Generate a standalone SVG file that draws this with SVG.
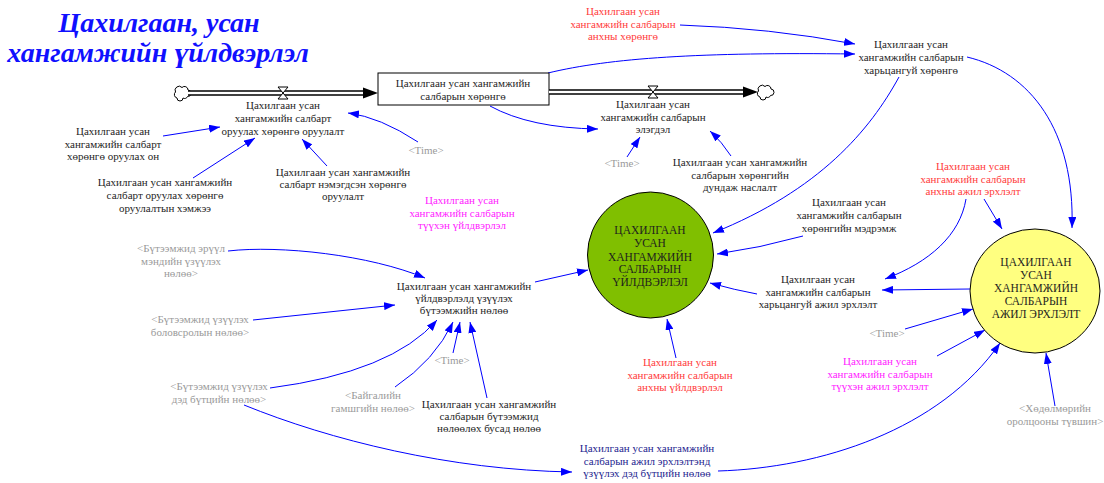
<svg xmlns="http://www.w3.org/2000/svg" xmlns:xlink="http://www.w3.org/1999/xlink" width="1104" height="483" viewBox="0 0 1104 483">
<style>
text{font-family:"Liberation Serif","Times New Roman",serif;font-size:11px;text-anchor:middle;fill:#1e1e1e}
.g{fill:#9a9a9a}
.r{fill:#ff3b3b}
.m{fill:#ff1cff}
.n{fill:#25258f}
.cap{font-size:11.5px}
.title{font-family:"Liberation Serif","Times New Roman",serif;font-size:28px;font-weight:bold;font-style:italic;fill:#1010ff}
.lk{fill:none;stroke:#0000ff;stroke-width:1;marker-end:url(#ah)}
.pipeo{stroke:#000;stroke-width:5.5;fill:none}
.pipei{stroke:#fff;stroke-width:2.5;fill:none}
.valve{fill:#fff;stroke:#000;stroke-width:1}
.cloud{fill:#fff;stroke:#000;stroke-width:1}
</style>
<defs>
<marker id="ah" markerUnits="userSpaceOnUse" viewBox="0 0 11 8" refX="11" refY="4" markerWidth="11" markerHeight="8" orient="auto">
<path d="M0,0 L11,4 L0,8 z" fill="#0000ff"/>
</marker>
<path id="cloudshape" d="M-5,5 a3.5,3.5 0 0 1 -1.5,-6 a4,4 0 0 1 6.5,-4.5 a3.5,3.5 0 0 1 6,2.5 a3,3 0 0 1 -0.5,6.5 a3,3 0 0 1 -4.5,1.5 a3,3 0 0 1 -6,0 z"/>
</defs>
<rect width="1104" height="483" fill="#fff"/>

<g id="title">
<text class="title" x="159" y="32">Цахилгаан, усан</text>
<text class="title" x="158" y="62">хангамжийн үйлдвэрлэл</text>
</g>

<g id="connectors">
<path class="lk" d="M163,136 L220,127"/>
<path class="lk" d="M193,178 L255,138"/>
<path class="lk" d="M327,166 L302,139"/>
<path class="lk" d="M418,142 Q380,117 348,113"/>
<path class="lk" d="M490,106 Q530,128 598,129"/>
<path class="lk" d="M627,157 L640,137"/>
<path class="lk" d="M731,156 Q722,142 710,131"/>
<path class="lk" d="M680,25 Q770,28 855,44"/>
<path class="lk" d="M548,73 C610,58 700,52 855,54"/>
<path class="lk" d="M967,57 C1030,72 1075,130 1072,228"/>
<path class="lk" d="M899,77 C870,130 820,190 713,233"/>
<path class="lk" d="M803,236 Q760,248 717,254"/>
<path class="lk" d="M757,294 Q735,290 710,283"/>
<path class="lk" d="M676,358 L667,319"/>
<path class="lk" d="M535,282 L588,270"/>
<path class="lk" d="M984,199 L1002,229"/>
<path class="lk" d="M966,199 C960,235 930,262 885,279"/>
<path class="lk" d="M970,289 L882,290"/>
<path class="lk" d="M905,329 L973,309"/>
<path class="lk" d="M937,356 L985,330"/>
<path class="lk" d="M718,471 C820,468 940,430 1000,343"/>
<path class="lk" d="M1055,406 L1046,353"/>
<path class="lk" d="M228,251 C280,245 370,255 425,278"/>
<path class="lk" d="M253,320 L395,305"/>
<path class="lk" d="M270,388 Q392,372 437,320"/>
<path class="lk" d="M395,387 Q435,360 453,322"/>
<path class="lk" d="M453,353 L460,322"/>
<path class="lk" d="M487,398 L470,322"/>
<path class="lk" d="M244,405 C330,440 450,470 572,472"/>
</g>

<g id="flow-invest">
<use href="#cloudshape" x="182" y="93" class="cloud"/>
<line class="pipeo" x1="188" y1="93" x2="365" y2="93"/>
<line class="pipei" x1="188" y1="93" x2="366" y2="93"/>
<polygon points="363,87.5 378,93 363,98.5" fill="#000"/>
<polygon class="valve" points="278,87 288,87 278,99 288,99"/>
<text x="283" y="109">Цахилгаан усан</text>
<text x="283" y="122">хангамжийн салбарт</text>
<text x="283" y="135">оруулах хөрөнгө оруулалт</text>
</g>

<g id="stock">
<rect x="378" y="73" width="171" height="32" fill="#fff" stroke="#000" stroke-width="1"/>
<text x="463" y="87">Цахилгаан усан хангамжийн</text>
<text x="463" y="100">салбарын хөрөнгө</text>
</g>

<g id="flow-depreciation">
<line class="pipeo" x1="549" y1="92" x2="744" y2="92"/>
<line class="pipei" x1="549" y1="92" x2="745" y2="92"/>
<polygon points="743,86.5 758,92 743,97.5" fill="#000"/>
<use href="#cloudshape" x="765" y="92" class="cloud"/>
<polygon class="valve" points="648,86 658,86 648,98 658,98"/>
<text x="653" y="108">Цахилгаан усан</text>
<text x="653" y="121">хангамжийн салбарын</text>
<text x="653" y="133">элэгдэл</text>
</g>

<g id="invest-year">
<text x="113" y="135">Цахилгаан усан</text>
<text x="113" y="148">хангамжийн салбарт</text>
<text x="113" y="160">хөрөнгө оруулах он</text>
</g>

<g id="invest-amount">
<text x="165" y="186">Цахилгаан усан хангамжийн</text>
<text x="165" y="199">салбарт оруулах хөрөнгө</text>
<text x="165" y="212">оруулалтын хэмжээ</text>
</g>

<g id="added-invest">
<text x="343" y="176">Цахилгаан усан хангамжийн</text>
<text x="343" y="188">салбарт нэмэгдсэн хөрөнгө</text>
<text x="343" y="200">оруулалт</text>
</g>

<g id="time1"><text class="g" x="426" y="154">&lt;Time&gt;</text></g>
<g id="time2"><text class="g" x="622" y="167">&lt;Time&gt;</text></g>

<g id="avg-life">
<text x="740" y="166">Цахилгаан усан хангамжийн</text>
<text x="740" y="179">салбарын хөрөнгийн</text>
<text x="740" y="191">дундаж наслалт</text>
</g>

<g id="initial-capital">
<text class="r" x="623" y="15">Цахилгаан усан</text>
<text class="r" x="623" y="28">хангамжийн салбарын</text>
<text class="r" x="623" y="40">анхны хөрөнгө</text>
</g>

<g id="relative-capital">
<text x="911" y="48">Цахилгаан усан</text>
<text x="911" y="61">хангамжийн салбарын</text>
<text x="911" y="74">харьцангуй хөрөнгө</text>
</g>

<g id="initial-employment">
<text class="r" x="973" y="170">Цахилгаан усан</text>
<text class="r" x="973" y="183">хангамжийн салбарын</text>
<text class="r" x="973" y="195">анхны ажил эрхлэлт</text>
</g>

<g id="capital-elasticity">
<text x="849" y="206">Цахилгаан усан</text>
<text x="849" y="219">хангамжийн салбарын</text>
<text x="849" y="232">хөрөнгийн мэдрэмж</text>
</g>

<g id="relative-employment">
<text x="818" y="283">Цахилгаан усан</text>
<text x="818" y="296">хангамжийн салбарын</text>
<text x="818" y="308">харьцангуй ажил эрхлэлт</text>
</g>

<g id="production">
<circle cx="650.5" cy="255" r="63" fill="#80bf00" stroke="#000" stroke-width="1"/>
<text class="cap" x="650" y="234">ЦАХИЛГААН</text>
<text class="cap" x="650" y="247">УСАН</text>
<text class="cap" x="650" y="261">ХАНГАМЖИЙН</text>
<text class="cap" x="650" y="273">САЛБАРЫН</text>
<text class="cap" x="650" y="286">ҮЙЛДВЭРЛЭЛ</text>
</g>

<g id="employment">
<ellipse cx="1035" cy="291" rx="65" ry="62" fill="#ffff80" stroke="#000" stroke-width="1"/>
<text class="cap" x="1036" y="266">ЦАХИЛГААН</text>
<text class="cap" x="1036" y="279">УСАН</text>
<text class="cap" x="1036" y="292">ХАНГАМЖИЙН</text>
<text class="cap" x="1036" y="305">САЛБАРЫН</text>
<text class="cap" x="1036" y="318">АЖИЛ ЭРХЛЭЛТ</text>
</g>

<g id="historic-production">
<text class="m" x="462" y="204">Цахилгаан усан</text>
<text class="m" x="462" y="217">хангамжийн салбарын</text>
<text class="m" x="462" y="229">түүхэн үйлдвэрлэл</text>
</g>

<g id="health-effect">
<text class="g" x="181" y="252">&lt;Бүтээмжид эрүүл</text>
<text class="g" x="181" y="265">мэндийн үзүүлэх</text>
<text class="g" x="181" y="277">нөлөө&gt;</text>
</g>

<g id="education-effect">
<text class="g" x="200" y="323">&lt;Бүтээмжид үзүүлэх</text>
<text class="g" x="200" y="336">боловсролын нөлөө&gt;</text>
</g>

<g id="productivity-effect">
<text x="464" y="290">Цахилгаан усан хангамжийн</text>
<text x="464" y="302">үйлдвэрлэлд үзүүлэх</text>
<text x="464" y="314">бүтээмжийн нөлөө</text>
</g>

<g id="infra-effect">
<text class="g" x="219" y="390">&lt;Бүтээмжид үзүүлэх</text>
<text class="g" x="219" y="403">дэд бүтцийн нөлөө&gt;</text>
</g>

<g id="time3"><text class="g" x="452" y="364">&lt;Time&gt;</text></g>

<g id="disaster-effect">
<text class="g" x="373" y="399">&lt;Байгалийн</text>
<text class="g" x="373" y="412">гамшгийн нөлөө&gt;</text>
</g>

<g id="other-effect">
<text x="489" y="408">Цахилгаан усан хангамжийн</text>
<text x="489" y="420">салбарын бүтээмжид</text>
<text x="489" y="432">нөлөөлөх бусад нөлөө</text>
</g>

<g id="initial-production">
<text class="r" x="680" y="366">Цахилгаан усан</text>
<text class="r" x="680" y="379">хангамжийн салбарын</text>
<text class="r" x="680" y="391">анхны үйлдвэрлэл</text>
</g>

<g id="time4"><text class="g" x="887" y="337">&lt;Time&gt;</text></g>

<g id="historic-employment">
<text class="m" x="880" y="365">Цахилгаан усан</text>
<text class="m" x="880" y="378">хангамжийн салбарын</text>
<text class="m" x="880" y="390">түүхэн ажил эрхлэлт</text>
</g>

<g id="labour-participation">
<text class="g" x="1055" y="412">&lt;Хөдөлмөрийн</text>
<text class="g" x="1055" y="425">оролцооны түвшин&gt;</text>
</g>

<g id="infra-employment">
<text class="n" x="647" y="452">Цахилгаан усан хангамжийн</text>
<text class="n" x="647" y="465">салбарын ажил эрхлэлтэнд</text>
<text class="n" x="647" y="477">үзүүлэх дэд бүтцийн нөлөө</text>
</g>
</svg>
